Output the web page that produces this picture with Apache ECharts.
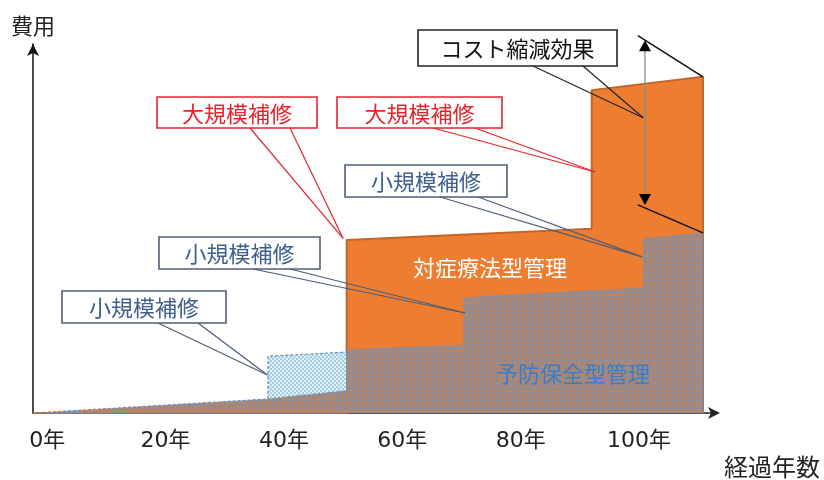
<!DOCTYPE html>
<html>
<head>
<meta charset="utf-8">
<script src="https://cdn.jsdelivr.net/npm/echarts@6/dist/echarts.min.js"></script>
<style>
html,body{margin:0;padding:0;background:#fff;}
#chart{width:824px;height:480px;}
</style>
</head>
<body>
<div id="chart"></div>
<script>
// ---- data (years, cost in relative units) ----
var xTickValues = [0, 20, 40, 60, 80, 100];
var xTickSuffix = '年';
var yAxisName = '費用';
var xAxisName = '経過年数';

// 対症療法型管理 (reactive maintenance) outline
var reactiveX = [-2.4, 50.6, 50.6, 92.0, 92.0, 110.8, 110.8];
var reactiveY = [0, 0, 46.9, 49.9, 87.5, 91.1, 0];

// 予防保全型管理 (preventive maintenance) outline
var preventX = [-2.4, 37.3, 50.6, 50.6, 70.4, 70.4, 100.8, 100.8, 110.8, 110.8];
var preventY = [0, 3.8, 6.0, 17.1, 18.4, 31.2, 33.9, 47.2, 48.8, 0];

// first small repair block
var smallRepairX = [37.3, 37.3, 50.6, 50.6];
var smallRepairY = [3.8, 15.4, 16.5, 6.0];

var reactiveName = '対症療法型管理';
var preventName = '予防保全型管理';
var bigRepairText = '大規模補修';
var smallRepairText = '小規模補修';
var effectText = 'コスト縮減効果';

// callout anchor points (data space)
var bigRepairTips = [[50.0, 47.3], [92.6, 65.3]];
var smallRepairTips = [[100.5, 42.3], [70.6, 27.1], [37.2, 10.3]];
var effectTip = [100.7, 80.0];

function zip(xs, ys) { return xs.map(function (x, i) { return [x, ys[i]]; }); }

function makePattern(bg, dot) {
  var c = document.createElement('canvas');
  c.width = 4; c.height = 4;
  var g = c.getContext('2d');
  g.fillStyle = bg; g.fillRect(0, 0, 4, 4);
  g.fillStyle = dot; g.fillRect(0, 0, 2, 2);
  return c;
}
function makeChecker(bg, dot) {
  var c = document.createElement('canvas');
  c.width = 4; c.height = 4;
  var g = c.getContext('2d');
  g.fillStyle = bg; g.fillRect(0, 0, 4, 4);
  g.fillStyle = dot; g.fillRect(0, 0, 2, 2); g.fillRect(2, 2, 2, 2);
  return c;
}

var FONT = '"Noto Sans CJK JP", "Noto Sans", sans-serif';
var NUMFONT = '"DejaVu Sans", "Noto Sans CJK JP", sans-serif';
var chart = echarts.init(document.getElementById('chart'), null, {renderer: 'canvas'});

chart.setOption({
  animation: false,
  backgroundColor: '#ffffff',
  grid: {left: 33, right: 108, top: 44, bottom: 67},
  xAxis: {
    type: 'value', min: -2.4, max: 113,
    splitLine: {show: false},
    axisTick: {show: false},
    axisLine: {show: true, onZero: false, lineStyle: {color: '#222', width: 1.5}, symbol: ['none', 'arrow'], symbolSize: [9, 12], symbolOffset: [0, 4]},
    axisLabel: {
      customValues: xTickValues,
      formatter: function (v) { return v + xTickSuffix; },
      fontSize: 22, color: '#222', fontFamily: NUMFONT, margin: 17
    }
  },
  yAxis: {
    type: 'value', min: 0, max: 100,
    name: yAxisName, nameLocation: 'end', nameGap: 7,
    nameTextStyle: {fontSize: 22, color: '#222', fontFamily: FONT},
    splitLine: {show: false},
    axisTick: {show: false},
    axisLabel: {show: false},
    axisLine: {show: true, onZero: false, lineStyle: {color: '#111', width: 1.5}, symbol: ['none', 'arrow'], symbolSize: [9, 12]}
  },
  series: [
    {
      name: reactiveName, type: 'line', data: zip(reactiveX, reactiveY),
      showSymbol: false, silent: true, z: 1,
      lineStyle: {color: '#c0652c', width: 2},
      areaStyle: {color: '#ed7d31', opacity: 1}
    },
    {
      name: 'small', type: 'line', data: zip(smallRepairX, smallRepairY),
      showSymbol: false, silent: true, z: 2,
      lineStyle: {color: '#6d8fb5', width: 1.2, type: [3, 2]},
      areaStyle: {color: {image: makeChecker('#a4cde1', '#e0f0f6'), repeat: 'repeat'}, opacity: 1}
    },
    {
      name: preventName, type: 'line', data: zip(preventX, preventY),
      showSymbol: false, silent: true, z: 3,
      lineStyle: {color: '#6f8fbf', width: 1.2, type: [3, 2]},
      areaStyle: {color: {image: makePattern('#ad876f', '#828cab'), repeat: 'repeat'}, opacity: 1}
    }
  ]
});

function px(p) { return chart.convertToPixel({gridIndex: 0}, p); }

var graphics = [];
function callout(box, text, border, textColor, roots, tip) {
  roots.forEach(function (rx) {
    graphics.push({type: 'line', z: 20, shape: {x1: rx, y1: box[1] + box[3], x2: tip[0], y2: tip[1]},
      style: {stroke: border, lineWidth: 1.2}});
  });
  graphics.push({type: 'rect', z: 21, shape: {x: box[0], y: box[1], width: box[2], height: box[3]},
    style: {fill: '#fff', stroke: border, lineWidth: 1.6}});
  graphics.push({type: 'text', z: 22, x: box[0] + box[2] / 2, y: box[1] + box[3] / 2 + 1,
    style: {text: text, fill: textColor, font: '22px ' + FONT, align: 'center', verticalAlign: 'middle'}});
}

var RED = '#e3262d', BLUE_B = '#4d5d78', BLUE_T = '#3f5f8c';
callout([157, 97, 160, 31], bigRepairText, RED, RED, [250, 290], px(bigRepairTips[0]));
callout([337, 97, 165, 31], bigRepairText, RED, RED, [433, 475], px(bigRepairTips[1]));
callout([345, 165, 162, 32], smallRepairText, BLUE_B, BLUE_T, [440, 478], px(smallRepairTips[0]));
callout([159, 237, 161, 32], smallRepairText, BLUE_B, BLUE_T, [253, 290], px(smallRepairTips[1]));
callout([62, 291, 164, 32], smallRepairText, BLUE_B, BLUE_T, [158, 198], px(smallRepairTips[2]));
callout([418, 30, 199, 36], effectText, '#222', '#111', [533, 583], px(effectTip));

// cost-reduction double arrow and extension lines
var arrTop = px([101, 101]), arrBot = px([101, 56.4]);
var oEnd = px([reactiveX[5], reactiveY[5]]), pEnd = px([preventX[8], preventY[8]]);
var extTop = px([99.8, 102.3]), extBot = px([99.8, 56.4]);
graphics.push({type: 'line', z: 15, shape: {x1: arrTop[0], y1: arrTop[1] + 8, x2: arrBot[0], y2: arrBot[1] - 8},
  style: {stroke: '#8a8a8a', lineWidth: 1.3}});
graphics.push({type: 'polygon', z: 16, shape: {points: [[arrTop[0], arrTop[1]], [arrTop[0] - 6, arrTop[1] + 11], [arrTop[0] + 6, arrTop[1] + 11]]}, style: {fill: '#000'}});
graphics.push({type: 'polygon', z: 16, shape: {points: [[arrBot[0], arrBot[1]], [arrBot[0] - 6, arrBot[1] - 11], [arrBot[0] + 6, arrBot[1] - 11]]}, style: {fill: '#000'}});
graphics.push({type: 'line', z: 16, shape: {x1: extTop[0], y1: extTop[1], x2: oEnd[0], y2: oEnd[1]}, style: {stroke: '#111', lineWidth: 1.5}});
graphics.push({type: 'line', z: 16, shape: {x1: extBot[0], y1: extBot[1], x2: pEnd[0], y2: pEnd[1]}, style: {stroke: '#111', lineWidth: 1.5}});

// area labels
graphics.push({type: 'text', z: 22, x: 490, y: 268,
  style: {text: reactiveName, fill: '#fff', font: '22px ' + FONT, align: 'center', verticalAlign: 'middle'}});
graphics.push({type: 'text', z: 22, x: 573, y: 374,
  style: {text: preventName, fill: '#3d7cc4', font: '22px ' + FONT, align: 'center', verticalAlign: 'middle'}});

// x axis name
graphics.push({type: 'text', z: 22, x: 772, y: 467,
  style: {text: xAxisName, fill: '#222', font: '24px ' + FONT, align: 'center', verticalAlign: 'middle'}});

chart.setOption({graphic: graphics});
</script>
</body>
</html>
